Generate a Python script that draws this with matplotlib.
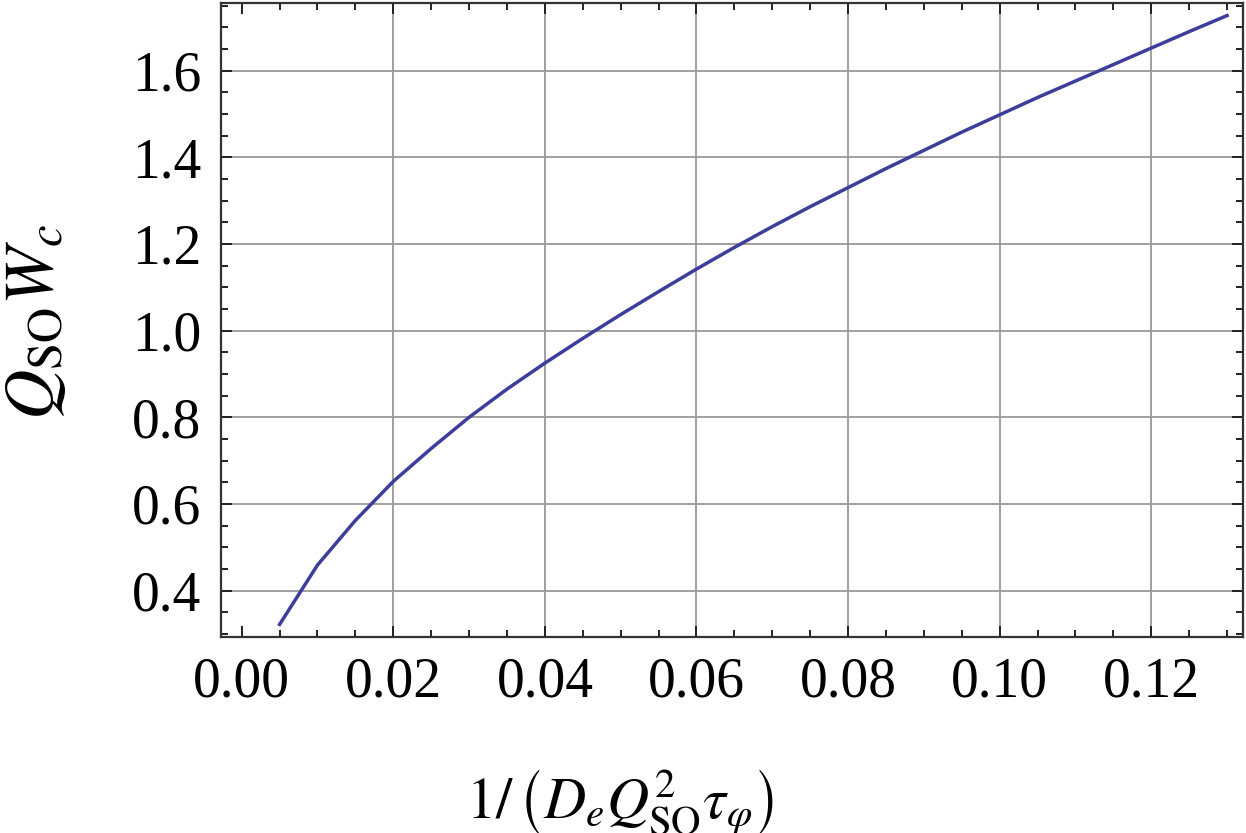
import numpy as np
import matplotlib.pyplot as plt
from matplotlib.ticker import MultipleLocator

# curve
x_vals = [0.005, 0.010, 0.015, 0.020, 0.025, 0.030, 0.035, 0.040, 0.045,
          0.050, 0.055, 0.060, 0.065, 0.070, 0.075, 0.080, 0.085, 0.090,
          0.095, 0.100, 0.105, 0.110, 0.115, 0.120, 0.125, 0.130]
y_vals = [0.322, 0.459, 0.562, 0.652, 0.728, 0.800, 0.865, 0.925, 0.982,
          1.037, 1.090, 1.142, 1.192, 1.240, 1.286, 1.330, 1.374, 1.416,
          1.458, 1.498, 1.538, 1.576, 1.614, 1.652, 1.690, 1.727]

x_ticks = [0.00, 0.02, 0.04, 0.06, 0.08, 0.10, 0.12]
y_ticks = [0.4, 0.6, 0.8, 1.0, 1.2, 1.4, 1.6]

plt.rcParams['mathtext.fontset'] = 'stix'
plt.rcParams['font.family'] = ['Liberation Serif', 'DejaVu Serif']

fig = plt.figure(figsize=(12.46, 8.33), dpi=100)
ax = fig.add_axes([221/1246, 1 - 637/833, (1243 - 221)/1246, (637 - 3)/833])

ax.plot(x_vals, y_vals, color="#3d3d9b", lw=2.5, zorder=3)

ax.set_xlim(-0.00273, 0.1321)
ax.set_ylim(0.293, 1.756)

ax.set_xticks(x_ticks)
ax.set_yticks(y_ticks)
ax.set_xticklabels(["%.2f" % v for v in x_ticks])
ax.set_yticklabels(["%.1f" % v for v in y_ticks])
ax.xaxis.set_minor_locator(MultipleLocator(0.005))
ax.yaxis.set_minor_locator(MultipleLocator(0.05))

# grid lines (no vertical line at 0.00)
for gx in x_ticks[1:]:
    ax.axvline(gx, color="#999999", lw=1.3, zorder=1)
for gy in y_ticks:
    ax.axhline(gy, color="#999999", lw=1.3, zorder=1)

ax.tick_params(which="both", direction="in", top=True, right=True,
               width=1.4, color="#222222")
ax.tick_params(which="major", length=8, labelsize=40, pad=14)
ax.tick_params(which="minor", length=5)
for s in ax.spines.values():
    s.set_linewidth(1.6)
    s.set_color("#333333")

fig.text(36/1246, 1 - 322/833, r"$Q_{\mathrm{SO}}W_c$", rotation=90,
         fontsize=50, ha="center", va="center")
fig.text(620/1246, 1 - 802/833,
         r"$1/\,\left(D_e Q_{\mathrm{SO}}^2\tau_\varphi\right)$",
         fontsize=42, ha="center", va="center")

plt.savefig("out.png", dpi=100)
